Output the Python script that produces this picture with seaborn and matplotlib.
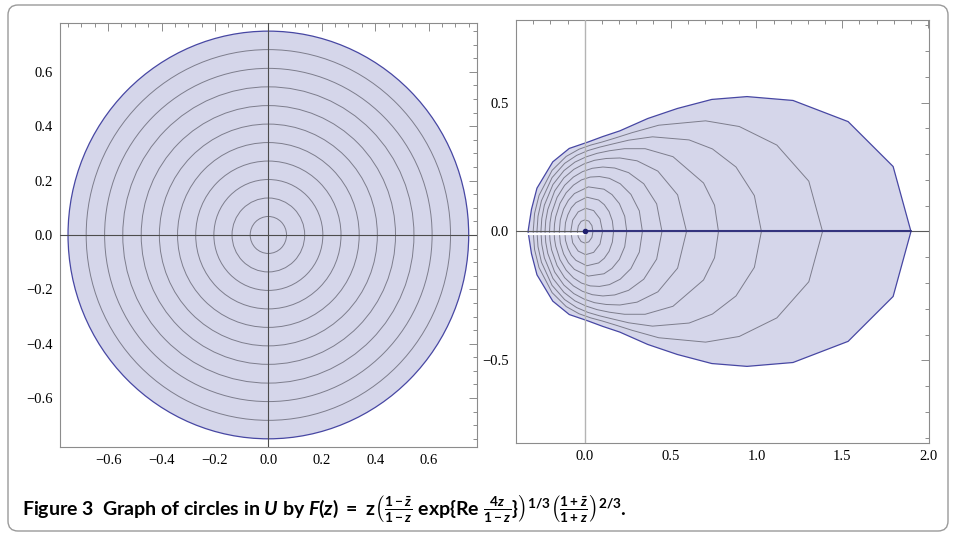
import pandas as pd
import matplotlib
matplotlib.use('Agg')
import matplotlib.pyplot as plt
import seaborn as sns
from matplotlib.patches import Circle, FancyBboxPatch
from matplotlib.ticker import MultipleLocator, FuncFormatter

# left panel: circles |z| = r in U (outer one is the boundary)
circle_radii = [0.068, 0.136, 0.204, 0.272, 0.340, 0.408, 0.476, 0.545, 0.613, 0.682]
outer_radius = 0.75

# right panel: upper halves of the image curves (right end -> left end)
image_x = [
    [0.048, 0.042, 0.024, 0.001, -0.021, -0.037, -0.043],
    [0.104, 0.089, 0.052, 0.005, -0.038, -0.070, -0.081],
    [0.168, 0.161, 0.142, 0.114, 0.081, 0.012, -0.051, -0.078, -0.098, -0.112, -0.116],
    [0.245, 0.233, 0.202, 0.159, 0.112, 0.021, -0.060, -0.095, -0.123, -0.142, -0.148],
    [0.336, 0.318, 0.269, 0.207, 0.144, 0.086, 0.032, -0.019, -0.065, -0.108, -0.144, -0.169, -0.176, -0.178],
    [0.450, 0.419, 0.344, 0.256, 0.175, 0.106, 0.044, -0.013, -0.066, -0.117, -0.161, -0.193, -0.202, -0.205],
    [0.593, 0.541, 0.426, 0.305, 0.205, 0.125, 0.057, -0.004, -0.063, -0.121, -0.175, -0.215, -0.227, -0.231],
    [0.779, 0.756, 0.692, 0.514, 0.352, 0.232, 0.144, 0.072, 0.007, -0.057, -0.121, -0.185, -0.235, -0.250,
     -0.255],
    [1.029, 0.988, 0.881, 0.744, 0.608, 0.395, 0.256, 0.161, 0.087, 0.020, -0.047, -0.117, -0.190, -0.252,
     -0.272, -0.278],
    [1.385, 1.305, 1.119, 0.900, 0.704, 0.431, 0.275, 0.176, 0.102, 0.035, -0.033, -0.108, -0.190, -0.266,
     -0.292, -0.300],
]
image_y = [
    [0.0, 0.023, 0.040, 0.045, 0.039, 0.022, 0.0],
    [0.0, 0.049, 0.081, 0.090, 0.076, 0.044, 0.0],
    [0.0, 0.041, 0.077, 0.104, 0.122, 0.133, 0.112, 0.092, 0.065, 0.034, 0.0],
    [0.0, 0.059, 0.108, 0.143, 0.164, 0.173, 0.147, 0.121, 0.087, 0.045, 0.0],
    [0.0, 0.080, 0.144, 0.185, 0.206, 0.213, 0.211, 0.200, 0.180, 0.150, 0.109, 0.057, 0.028, 0.0],
    [0.0, 0.107, 0.185, 0.228, 0.246, 0.250, 0.245, 0.232, 0.211, 0.179, 0.132, 0.071, 0.034, 0.0],
    [0.0, 0.142, 0.234, 0.274, 0.285, 0.283, 0.276, 0.262, 0.241, 0.208, 0.157, 0.085, 0.042, 0.0],
    [0.0, 0.102, 0.188, 0.290, 0.321, 0.321, 0.313, 0.303, 0.289, 0.269, 0.236, 0.182, 0.102, 0.050, 0.0],
    [0.0, 0.139, 0.250, 0.320, 0.355, 0.367, 0.354, 0.339, 0.327, 0.314, 0.295, 0.264, 0.209, 0.119,
     0.059, 0.0],
    [0.0, 0.195, 0.335, 0.407, 0.429, 0.412, 0.383, 0.362, 0.347, 0.335, 0.319, 0.291, 0.237, 0.140,
     0.070, 0.0],
]
boundary_x = [1.900, 1.796, 1.534, 1.213, 0.945, 0.740, 0.540, 0.367, 0.204, 0.105, 0.020,
              -0.090, -0.186, -0.278, -0.310, -0.330]
boundary_y = [0.0, 0.252, 0.426, 0.508, 0.523, 0.512, 0.477, 0.438, 0.390, 0.368, 0.347,
              0.322, 0.270, 0.168, 0.086, 0.0]

caption = (r"Figure 3  Graph of circles in $U$ by "
           r"$F(z)\ =\ \mathrm{z}\left(\frac{1-\bar{z}}{1-z}\ \mathrm{exp}\{\mathrm{Re}\ \frac{4z}{1-z}\}\right)^{1/3}"
           r"\left(\frac{1+\bar{z}}{1+z}\right)^{2/3}$.")

sns.set_theme(style='white')
plt.rcParams['mathtext.fontset'] = 'custom'
plt.rcParams['mathtext.rm'] = 'Lato:bold'
plt.rcParams['mathtext.it'] = 'Lato:italic:bold'
plt.rcParams['mathtext.bf'] = 'Lato:bold'

fill_c = '#d5d6ea'
edge_c = '#4747a3'
mesh_c = '#7d7d8c'
frame_c = '#8c8c8c'


def closed(xs, ys):
    # upper half plus mirrored lower half
    return xs + xs[::-1][1:], ys + [-v for v in ys[::-1][1:]]


def style_frame(ax, major, minor):
    ax.xaxis.set_major_locator(MultipleLocator(major))
    ax.yaxis.set_major_locator(MultipleLocator(major))
    ax.xaxis.set_minor_locator(MultipleLocator(minor))
    ax.yaxis.set_minor_locator(MultipleLocator(minor))
    fmt = FuncFormatter(lambda v, p: ('%.1f' % (0.0 if abs(v) < 1e-9 else v)).replace('-', '\u2212'))
    ax.xaxis.set_major_formatter(fmt)
    ax.yaxis.set_major_formatter(fmt)
    ax.tick_params(which='both', direction='in', top=True, right=True, color=frame_c, width=0.7,
                   labelsize=10.5, labelcolor='black', labelfontfamily='Liberation Serif', pad=5)
    ax.tick_params(which='major', length=6)
    ax.tick_params(which='minor', length=3)
    for s in ax.spines.values():
        s.set_color(frame_c)
        s.set_linewidth(0.8)
    ax.set_xlabel('')
    ax.set_ylabel('')


fig = plt.figure(figsize=(9.54, 5.33), dpi=100)

# ---- left panel
ax1 = fig.add_axes([0.0629, 0.1614, 0.4368, 0.7955])
ax1.add_patch(Circle((0, 0), outer_radius, facecolor=fill_c, edgecolor=edge_c, lw=0.9, zorder=1))
for r in circle_radii:
    ax1.add_patch(Circle((0, 0), r, fill=False, edgecolor=mesh_c, lw=0.7, zorder=2))
ax1.axhline(0, color='#4d4d4d', lw=0.8, zorder=3)
ax1.axvline(0, color='#4d4d4d', lw=0.8, zorder=3)
ax1.set_xlim(-0.78, 0.78)
ax1.set_ylim(-0.78, 0.78)
style_frame(ax1, 0.2, 0.05)

# ---- right panel
ax2 = fig.add_axes([0.5409, 0.1689, 0.4329, 0.7936])
bx, by = closed(boundary_x, boundary_y)
ax2.fill(bx, by, facecolor=fill_c, edgecolor=edge_c, lw=0.9, zorder=1)

rows = []
for k, (xs, ys) in enumerate(zip(image_x, image_y)):
    cx, cy = closed(xs, ys)
    for i, (a, b) in enumerate(zip(cx, cy)):
        rows.append({'curve': k, 'order': i, 'x': a, 'y': b})
curves = pd.DataFrame(rows)
sns.lineplot(data=curves, x='x', y='y', units='curve', estimator=None, sort=False,
             color=mesh_c, lw=0.7, ax=ax2, zorder=2)

ax2.axvline(0, color='#b4b4b4', lw=1.0, zorder=3)
ax2.axhline(0, color='#5a5a5a', lw=0.8, zorder=3)
ax2.plot([boundary_x[-1], 0], [-0.008, -0.008], color='white', lw=1.6, zorder=3.5)
ax2.plot([0, boundary_x[0]], [0, 0], color='#34347e', lw=1.5, zorder=4)
ax2.plot([0], [0], 'o', color='#1f1f6e', ms=3, zorder=5)
ax2.set_xlim(-0.40, 2.005)
ax2.set_ylim(-0.82, 0.82)
style_frame(ax2, 0.5, 0.1)

# caption
fig.text(0.023, 0.034, caption, fontsize=14, fontweight='bold', family='Lato',
         color='black', va='baseline', ha='left')

# rounded border around the figure
bg = fig.add_axes([0, 0, 1, 1], zorder=-1)
bg.set_xlim(0, 954)
bg.set_ylim(533, 0)
bg.axis('off')
bg.add_patch(FancyBboxPatch((8, 5), 940, 526, boxstyle='round,pad=0,rounding_size=10',
                            facecolor='none', edgecolor='#9a9a9a', lw=1.0))

fig.savefig('out.png', dpi=100)
